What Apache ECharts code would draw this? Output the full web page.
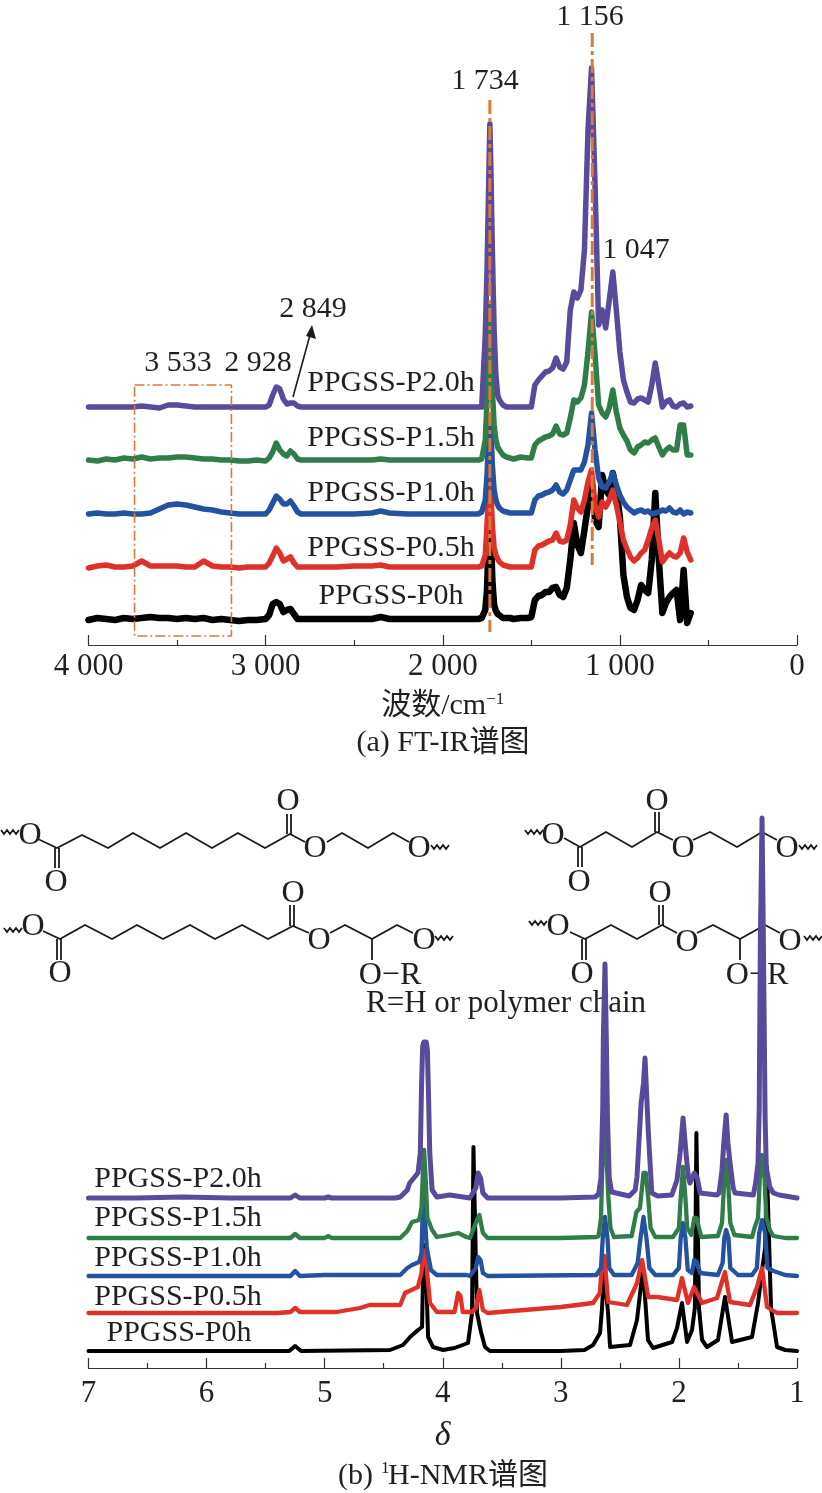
<!DOCTYPE html>
<html>
<head>
<meta charset="utf-8">
<style>html,body{margin:0;background:#fff}#main{width:822px;height:1493px}</style>
<script src="https://cdn.jsdelivr.net/npm/echarts@6/dist/echarts.min.js"></script>
</head>
<body>
<div id="main"></div>
<script>
// FT-IR: wavenumber grid and stacked spectra (height above the axis)
const irWave = [4000,3950,3900,3850,3800,3750,3700,3650,3600,3550,3500,3450,3400,3350,3300,3250,3200,3150,3100,3050,3000,
  2980,2960,2940,2920,2900,2880,2860,2840,2820,2800,
  2700,2600,2500,2400,2350,2300,2200,2100,2000,1900,1850,1800,
  1780,1770,1760,1750,1740,1734,1728,1720,1710,1700,1690,1680,1660,1640,1620,1600,1560,1520,
  1500,1480,1460,1440,1420,1400,1380,1360,1340,1320,1300,1280,1260,1240,1220,1200,1180,1160,1140,1120,1100,1080,1060,1040,1020,1000,
  980,960,940,920,900,880,860,840,820,800,780,760,740,720,700,680,660,640,620,600]
const irP0 = [25,27,26,25,27,26,27,28,27,27,26,27,26,27,25,26,25,24,25,25,26,
  30,41,43,41,33,35,36,31,26,26,
  26,26,26,26,28,26,26,26,26,26,26,26,
  27,29,35,55,115,148,115,65,40,34,31,29,27,27,27,26,27,27,
  28,45,49,50,53,53,57,58,50,48,57,85,122,100,92,115,140,165,125,118,170,155,150,172,155,128,
  70,48,37,35,45,60,55,52,85,152,85,32,42,48,52,55,25,75,22,32]
const irP05 = [77,79,80,78,78,79,84,79,79,79,79,78,78,84,79,78,78,77,78,78,78,
  82,89,97,92,84,86,88,82,78,78,
  78,78,79,79,80,78,78,78,78,78,78,78,
  79,81,90,120,155,175,155,120,97,90,86,83,80,79,78,78,78,78,
  78,95,99,100,102,104,105,112,104,103,105,120,145,137,133,145,163,175,140,128,143,138,145,155,140,123,
  105,96,88,84,87,92,95,105,117,125,105,83,88,92,89,88,92,107,93,85]
const irP10 = [131,132,131,131,132,131,131,132,136,140,141,140,138,136,135,133,132,131,131,131,131,
  135,142,149,146,141,141,144,139,133,131,
  131,131,131,132,134,132,131,131,131,131,131,131,
  133,135,145,170,215,230,215,180,155,145,140,137,134,133,132,132,132,132,
  132,145,149,150,152,153,155,160,153,151,155,165,175,175,175,183,200,232,195,167,158,157,163,172,160,150,
  143,138,135,132,134,135,133,134,131,132,133,135,134,137,133,132,135,131,133,132]
const irP15 = [185,184,186,185,187,186,188,186,187,187,188,188,187,186,186,185,185,184,184,185,184,
  187,193,202,195,191,189,194,191,186,185,
  185,185,185,185,186,185,185,185,185,185,185,185,
  186,188,205,245,305,342,305,255,220,205,198,195,190,188,187,186,188,187,
  187,200,204,206,208,209,211,219,211,210,212,227,245,243,247,260,293,333,290,240,232,228,237,255,233,217,
  210,204,195,192,198,200,203,202,205,207,198,190,195,198,195,195,220,220,190,190]
const irP20 = [238,238,238,238,238,238,239,238,237,240,240,239,238,238,238,238,238,238,238,238,238,
  240,250,258,256,246,241,242,242,239,238,
  238,238,238,238,238,238,238,238,238,238,238,238,
  238,240,310,375,468,521,475,395,315,270,250,245,240,238,238,238,238,238,
  238,260,265,269,273,274,277,287,278,276,283,335,353,347,355,395,515,577,460,320,335,317,345,373,335,293,
  265,253,243,242,246,247,245,243,260,282,260,238,243,245,239,238,241,242,238,239]
// orange guides: two peak markers and the 3 533 region box
const irGuide1734 = [[1734,545],[1734,13]]
const irGuide1156 = [[1156,612],[1156,80]]
const irBox = [[3740,260],[3193,260],[3193,9],[3740,9],[3740,260]]

// 1H-NMR: [ppm, height above the axis]
const nmrP0 = [[7,17],[6,17],[5.3,17],[5.25,22],[5.2,17],[4.446,18],[4.336,23],[4.277,31],[4.209,38],[4.175,41],[4.165,110],[4.158,123],[4.145,110],[4.124,31],[4.082,21],[3.997,18],[3.9,20],[3.786,25],[3.752,55],[3.74,221],[3.728,221],[3.71,55],[3.676,36],[3.642,21],[3.6,17],[3,17],[2.8,18],[2.727,23],[2.668,35],[2.651,60],[2.634,98],[2.6,55],[2.583,21],[2.414,23],[2.355,48],[2.304,100],[2.262,28],[2.219,20],[2.058,26],[2.016,40],[1.974,65],[1.931,26],[1.889,38],[1.865,60],[1.852,235],[1.842,235],[1.83,60],[1.804,28],[1.762,21],[1.669,28],[1.61,71],[1.55,26],[1.483,28],[1.381,31],[1.33,65],[1.296,98],[1.27,120],[1.255,201],[1.24,201],[1.22,60],[1.169,21],[1.1,18],[1,17]]
const nmrP05 = [[7,55],[6,55],[5.4,55],[5.29,56],[5.25,60],[5.21,56],[4.9,56],[4.7,60],[4.62,63],[4.36,63],[4.32,75],[4.21,81],[4.18,95],[4.165,118],[4.158,118],[4.14,105],[4.108,65],[4.05,56],[3.9,56],[3.885,58],[3.87,75],[3.85,72],[3.83,56],[3.75,56],[3.72,60],[3.69,78],[3.66,58],[3.62,55],[3,61],[2.727,65],[2.67,75],[2.651,105],[2.63,112],[2.6,66],[2.44,63],[2.355,85],[2.312,108],[2.26,71],[2.185,71],[2.016,68],[1.974,90],[1.923,65],[1.872,81],[1.804,65],[1.677,70],[1.61,96],[1.567,66],[1.398,63],[1.339,81],[1.296,100],[1.254,61],[1.169,55],[1,55]]
const nmrP10 = [[7,92],[6,92],[5.29,92],[5.25,97],[5.21,92],[5,93],[4.6,93],[4.36,93],[4.3,100],[4.26,103],[4.2,106],[4.18,115],[4.165,175],[4.15,175],[4.135,120],[4.1,98],[4.05,93],[3.8,93],[3.77,92],[3.72,100],[3.7,111],[3.68,108],[3.66,95],[3.62,92],[2.7,93],[2.66,100],[2.645,130],[2.626,151],[2.605,130],[2.59,100],[2.55,93],[2.4,93],[2.35,105],[2.325,130],[2.3,151],[2.275,130],[2.25,100],[2.2,93],[2.05,93],[2,100],[1.985,130],[1.965,145],[1.945,130],[1.925,98],[1.89,95],[1.87,108],[1.85,106],[1.82,95],[1.67,93],[1.63,105],[1.615,130],[1.6,138],[1.58,130],[1.565,100],[1.5,93],[1.38,93],[1.34,100],[1.32,135],[1.296,148],[1.27,135],[1.25,100],[1.2,97],[1.1,93],[1,92]]
const nmrP15 = [[7,130],[6,130],[5.29,130],[5.25,134],[5.21,130],[5,130],[4.97,132],[4.94,130],[4.36,130],[4.3,137],[4.26,146],[4.2,148],[4.18,160],[4.17,190],[4.158,218],[4.145,190],[4.13,150],[4.09,138],[4.05,131],[3.95,133],[3.87,135],[3.8,131],[3.77,130],[3.72,145],[3.69,153],[3.66,135],[3.62,130],[3,130],[2.7,131],[2.68,132],[2.66,150],[2.65,195],[2.626,250],[2.6,175],[2.58,140],[2.55,131],[2.4,132],[2.36,156],[2.33,160],[2.3,195],[2.28,195],[2.26,170],[2.24,140],[2.2,131],[2.05,131],[2,140],[1.985,170],[1.965,201],[1.945,170],[1.93,140],[1.895,133],[1.87,150],[1.85,150],[1.83,140],[1.81,131],[1.67,132],[1.635,145],[1.615,190],[1.6,208],[1.585,190],[1.565,145],[1.53,133],[1.38,131],[1.36,140],[1.33,150],[1.315,190],[1.296,213],[1.275,190],[1.26,150],[1.23,138],[1.2,132],[1.1,130],[1,130]]
const nmrP20 = [[7,170],[6.6,170],[6.2,171],[5.8,170],[5.4,170],[5.29,170],[5.25,173],[5.21,170],[5,170],[4.97,171],[4.94,170],[4.4,170],[4.36,171],[4.3,178],[4.28,185],[4.21,195],[4.19,215],[4.18,280],[4.17,322],[4.16,326],[4.14,326],[4.13,318],[4.12,270],[4.11,215],[4.09,178],[4.05,171],[3.94,173],[3.77,170],[3.72,180],[3.7,195],[3.68,190],[3.66,175],[3.62,170],[3,170],[2.71,171],[2.68,174],[2.66,190],[2.645,260],[2.64,330],[2.626,404],[2.615,330],[2.605,250],[2.59,190],[2.57,176],[2.42,172],[2.37,178],[2.355,191],[2.32,265],[2.3,285],[2.287,310],[2.26,238],[2.23,175],[2.18,172],[2.06,173],[2.016,188],[1.99,215],[1.965,250],[1.94,215],[1.92,191],[1.906,185],[1.87,195],[1.845,190],[1.82,175],[1.68,173],[1.66,175],[1.635,198],[1.62,225],[1.6,253],[1.585,225],[1.567,205],[1.54,180],[1.525,175],[1.37,173],[1.35,185],[1.33,205],[1.32,260],[1.31,430],[1.296,550],[1.285,430],[1.27,250],[1.26,200],[1.23,181],[1.2,175],[1.15,173],[1,170]]

const sampleNames = ['PPGSS-P0h','PPGSS-P0.5h','PPGSS-P1.0h','PPGSS-P1.5h','PPGSS-P2.0h']
const sampleColors = ['#000000','#e0302a','#23539f','#2f7d48','#5a4a9b']
const irLineWidths = [6.5, 5.5, 5.5, 5.5, 5.5]
const nmrLineWidths = [4, 4.3, 4.3, 4.3, 5]
const irTicks = [0,1000,2000,3000,4000]

const SERIF = '"Liberation Serif","Noto Sans CJK SC",serif'
const INK = '#231f20'
const ORANGE = '#d97a3a'

function label(text, x, y, size, extra) {
  return { type: 'text', x: x, y: y, z: 1, style: Object.assign({
    text: text, font: (size || 30) + 'px ' + SERIF, fill: INK, align: 'center', verticalAlign: 'middle'
  }, extra || {}) }
}
function bond(points, width) {
  return { type: 'polyline', z: 1, shape: { points: points }, style: { stroke: '#1a1a1a', lineWidth: width || 1.8, fill: null } }
}
function wavy(x, y) {
  let pts = []
  for (let i = 0; i < 7; i++) pts.push([x + i * 3, y + (i % 2 ? 2 : -2)])
  return bond(pts, 1.8)
}

// annotations around the spectra
let graphics = [
  label('1 156', 590, 17), label('1 734', 485, 81), label('1 047', 636, 250),
  label('2 849', 313, 309), label('3 533', 178, 363), label('2 928', 258, 363),
  label('PPGSS-P2.0h', 391, 383), label('PPGSS-P1.5h', 391, 438), label('PPGSS-P1.0h', 391, 493),
  label('PPGSS-P0.5h', 391, 548), label('PPGSS-P0h', 391, 596),
  label('(a) FT-IR谱图', 443, 743, 30),
  label('PPGSS-P2.0h', 178, 1179), label('PPGSS-P1.5h', 178, 1218), label('PPGSS-P1.0h', 178, 1258),
  label('PPGSS-P0.5h', 178, 1297), label('PPGSS-P0h', 179, 1333),
  label('(b)', 338, 1476, 30, { align: 'left' }), label('1', 381, 1469, 17, { align: 'left' }),
  label('H-NMR谱图', 388, 1476, 30, { align: 'left' }),
  bond([[293, 397], [310, 335]], 1.6),
  { type: 'polygon', z: 1, shape: { points: [[312, 325], [316, 339], [306, 336]] }, style: { fill: '#1a1a1a' } }
]

// polymer repeat units, left and right columns
graphics = graphics.concat([
  bond([[38,839],[57,848],[82,835],[108,848],[133,833],[160,848],[186,833],[212,848],[238,833],[265,848],[290,834],[305,842]]),
  bond([[327,842],[342,833],[368,848],[393,833],[409,842]]),
  bond([[55,848],[55,868]]), bond([[59,848],[59,868]]), bond([[287,834],[287,814]]), bond([[291,834],[291,814]]),
  label('O',30,836,32), label('O',56,883,32), label('O',288,802,32), label('O',315,849,32), label('O',419,849,32),
  wavy(1,832), wavy(431,847),

  bond([[43,931],[60,939],[85,925],[112,939],[137,925],[163,939],[190,925],[215,939],[242,925],[268,939],[293,926],[309,933]]),
  bond([[330,933],[345,925],[372,939],[397,925],[413,933]]),
  bond([[372,939],[372,960]]),
  bond([[57,939],[57,960]]), bond([[61,939],[61,960]]), bond([[290,926],[290,905]]), bond([[294,926],[294,905]]),
  label('O',33,927,32), label('O',60,974,32), label('O',293,894,32), label('O',319,941,32), label('O',424,941,32),
  label('O−R',390,976,32), wavy(4,930), wavy(435,938),
  label('R=H or polymer chain',506,1004,31),

  bond([[564,838],[580,847],[606,832],[632,847],[657,832],[673,840]]),
  bond([[693,840],[710,832],[737,847],[762,832],[777,840]]),
  bond([[578,847],[578,867]]), bond([[582,847],[582,867]]), bond([[655,832],[655,812]]), bond([[659,832],[659,812]]),
  label('O',553,836,32), label('O',579,883,32), label('O',657,802,32), label('O',683,849,32), label('O',787,849,32),
  wavy(525,832), wavy(799,847),

  bond([[570,932],[585,939],[611,925],[637,939],[662,925],[677,933]]),
  bond([[697,933],[713,925],[740,939],[765,925],[780,933]]),
  bond([[740,939],[740,960]]),
  bond([[582,939],[582,960]]), bond([[586,939],[586,960]]), bond([[659,925],[659,905]]), bond([[663,925],[663,905]]),
  label('O',558,927,32), label('O',582,975,32), label('O',660,894,32), label('O',687,943,32), label('O',790,942,32),
  label('O−R',757,976,32), wavy(529,923), wavy(804,938)
])

function spectrum(name, color, data, axis, width) {
  return { name: name, type: 'line', xAxisIndex: axis, yAxisIndex: axis, data: data, showSymbol: false, symbol: 'none',
    sampling: null, silent: true, lineStyle: { color: color, width: width, join: 'round', cap: 'round' } }
}
function guide(data, width, dash) {
  return { type: 'line', xAxisIndex: 0, yAxisIndex: 0, data: data, symbol: 'none', silent: true, z: 3,
    lineStyle: { color: ORANGE, width: width, type: dash } }
}
function axisCommon() {
  return {
    type: 'value', position: 'bottom', inverse: true, splitLine: { show: false },
    axisLine: { onZero: false, lineStyle: { color: '#333', width: 1.2 } },
    axisTick: { inside: true, length: 10, lineStyle: { color: '#333', width: 1.2 } },
    minorTick: { show: true, splitNumber: 2, length: 5, lineStyle: { color: '#333', width: 1.2 } },
    minorSplitLine: { show: false }
  }
}

const irSeries = [irP0, irP05, irP10, irP15, irP20].map((vals, i) =>
  spectrum(sampleNames[i], sampleColors[i], vals.map((v, k) => [irWave[k], v]), 0, irLineWidths[i]))
const nmrSeries = [nmrP0, nmrP05, nmrP10, nmrP15, nmrP20].map((vals, i) =>
  spectrum(sampleNames[i], sampleColors[i], vals, 1, nmrLineWidths[i]))

let chart = echarts.init(document.getElementById('main'))
chart.setOption({
  animation: false,
  backgroundColor: '#fff',
  grid: [
    { left: 88.5, right: 25, top: 0, height: 645 },
    { left: 88.5, right: 25, top: 790, height: 578 }
  ],
  xAxis: [
    Object.assign(axisCommon(), {
      gridIndex: 0, min: 0, max: 4000, interval: 1000,
      axisLabel: { color: INK, margin: 6, fontFamily: SERIF, fontSize: 31,
        formatter: v => irTicks.includes(v) && v > 0 ? String(v).replace(/(\d)(\d{3})$/, '$1 $2') : String(v) },
      name: '{a|波数/cm}{s|−1}', nameLocation: 'middle', nameGap: 46,
      nameTextStyle: { rich: {
        a: { fontFamily: SERIF, fontSize: 30, color: INK },
        s: { fontFamily: SERIF, fontSize: 17, color: INK, verticalAlign: 'top' }
      } }
    }),
    Object.assign(axisCommon(), {
      gridIndex: 1, min: 1, max: 7, interval: 1,
      axisLabel: { color: INK, margin: 10, fontFamily: SERIF, fontSize: 31 },
      name: 'δ', nameLocation: 'middle', nameGap: 51,
      nameTextStyle: { fontFamily: SERIF, fontStyle: 'italic', fontSize: 34, color: INK }
    })
  ],
  yAxis: [
    { type: 'value', gridIndex: 0, min: 0, max: 645, show: false },
    { type: 'value', gridIndex: 1, min: 0, max: 578, show: false }
  ],
  graphic: graphics,
  series: irSeries.concat(nmrSeries, [
    guide(irGuide1734, 3, [14, 4, 4, 4]), guide(irGuide1156, 3, [14, 4, 4, 4]), guide(irBox, 1.6, [10, 3, 2, 3])
  ])
})
</script>
</body>
</html>
